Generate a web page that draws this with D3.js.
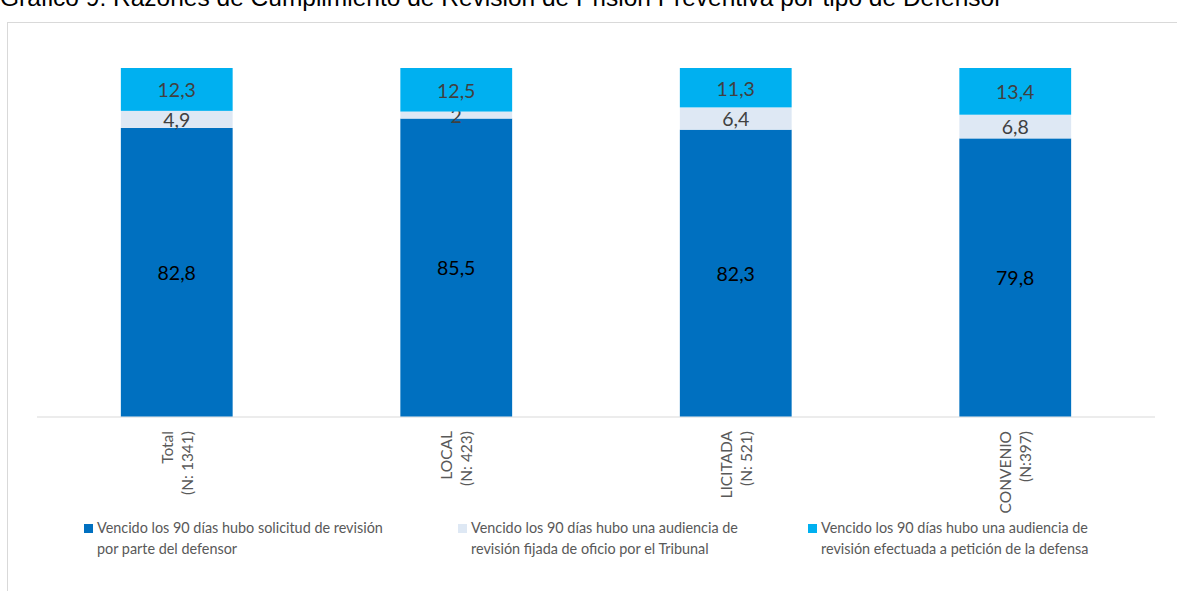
<!DOCTYPE html>
<html>
<head>
<meta charset="utf-8">
<script src="https://cdn.jsdelivr.net/npm/d3@7"></script>
<style>
	body { margin: 0; background: #fff; }
	svg { display: block; }
</style>
</head>
<body>
<div id="chart"></div>
<script>
// categories and series (percent)
const categories = ["Total", "LOCAL", "LICITADA", "CONVENIO"];
const catCounts = ["(N: 1341)", "(N: 423)", "(N: 521)", "(N:397)"];
const solicitud = [82.8, 85.5, 82.3, 79.8];
const oficio = [4.9, 2, 6.4, 6.8];
const peticion = [12.3, 12.5, 11.3, 13.4];

const seriesNames = [
	["Vencido los 90 días hubo solicitud de revisión", "por parte del defensor"],
	["Vencido los 90 días hubo una audiencia de", "revisión fijada de oficio por el Tribunal"],
	["Vencido los 90 días hubo una audiencia de", "revisión efectuada a petición de la defensa"]
];
const colors = ["#0070c0", "#dee8f4", "#00b0f0"];
const title = "Gráfico 9: Razones de Cumplimiento de Revisión de Prisión Preventiva por tipo de Defensor";

const width = 1177, height = 591;
const plot = { left: 37, right: 1155, top: 68, bottom: 416.5 };

const svg = d3.select("#chart").append("svg")
	.attr("width", width)
	.attr("height", height);

// title, cut at the top like the source image
svg.append("text")
	.attr("x", 0)
	.attr("y", 6)
	.attr("font-family", "Liberation Sans, Arial, sans-serif")
	.attr("font-size", 24.5)
	.attr("fill", "#000")
	.text(title);

// frame
svg.append("rect")
	.attr("x", 7.5).attr("y", 22.5)
	.attr("width", 1300).attr("height", 700)
	.attr("fill", "none")
	.attr("stroke", "#d9d9d9");

const data = categories.map((c, i) => ({
	cat: c, n: catCounts[i], s0: solicitud[i], s1: oficio[i], s2: peticion[i]
}));

const stack = d3.stack().keys(["s0", "s1", "s2"])(data);

const x = d3.scaleBand()
	.domain(categories)
	.range([plot.left, plot.right])
	.padding(0);
const barW = x.bandwidth() * 0.4;

const y = d3.scaleLinear()
	.domain([0, 100])
	.range([plot.bottom, plot.top]);

// axis line
svg.append("line")
	.attr("x1", plot.left).attr("x2", plot.right)
	.attr("y1", plot.bottom + 0.5).attr("y2", plot.bottom + 0.5)
	.attr("stroke", "#d9d9d9")
	.attr("stroke-width", 1.2);

const layer = svg.selectAll("g.layer")
	.data(stack)
	.join("g")
	.attr("class", "layer")
	.attr("fill", (d, i) => colors[i]);

layer.selectAll("rect")
	.data(d => d)
	.join("rect")
	.attr("x", d => x(d.data.cat) + (x.bandwidth() - barW) / 2)
	.attr("y", d => y(d[1]))
	.attr("width", barW)
	.attr("height", d => y(d[0]) - y(d[1]));

layer.selectAll("text")
	.data(d => d)
	.join("text")
	.attr("x", d => x(d.data.cat) + x.bandwidth() / 2)
	.attr("y", d => (y(d[0]) + y(d[1])) / 2 + 1)
	.attr("dy", "0.35em")
	.attr("text-anchor", "middle")
	.attr("font-family", "Lato, sans-serif")
	.attr("font-size", 19.5)
	.attr("fill", "#404040")
	.text(d => String(+(d[1] - d[0]).toFixed(1)).replace(".", ","));

// the big segment labels are black
layer.filter((d, i) => i === 0).selectAll("text").attr("fill", "#000");

// category labels, rotated
const catLab = svg.selectAll("g.cat")
	.data(data)
	.join("g")
	.attr("class", "cat")
	.attr("transform", d => `translate(${x(d.cat) + x.bandwidth() / 2},431) rotate(-90)`)
	.attr("font-family", "Lato, sans-serif")
	.attr("font-size", 15.5)
	.attr("fill", "#595959")
	.attr("text-anchor", "end");
catLab.append("text").attr("x", 0).attr("y", -4).text(d => d.cat);
catLab.append("text").attr("x", 0).attr("y", 16).text(d => d.n);

// legend
const legX = [84, 458, 808];
const leg = svg.selectAll("g.leg")
	.data(seriesNames)
	.join("g")
	.attr("class", "leg")
	.attr("transform", (d, i) => `translate(${legX[i]},524)`);
leg.append("rect")
	.attr("width", 9).attr("height", 9)
	.attr("fill", (d, i) => colors[i]);
leg.append("text")
	.attr("x", 13).attr("y", 8.5)
	.attr("font-family", "Lato, sans-serif")
	.attr("font-size", 14.4)
	.attr("fill", "#595959")
	.selectAll("tspan")
	.data(d => d)
	.join("tspan")
	.attr("x", 13)
	.attr("dy", (d, i) => i ? 21 : 0)
	.text(d => d);
</script>
</body>
</html>
